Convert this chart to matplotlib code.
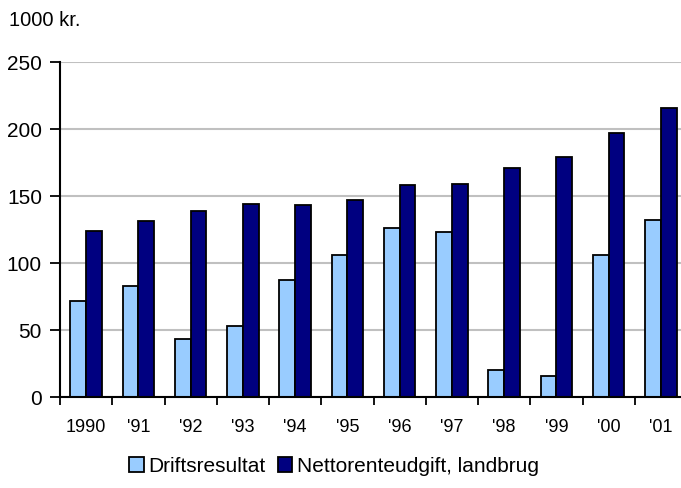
import matplotlib.pyplot as plt
import numpy as np

plt.rcParams['font.family'] = ['Liberation Sans', 'DejaVu Sans']

# Data (1000 kr.)
years = ['1990', "'91", "'92", "'93", "'94", "'95", "'96", "'97", "'98", "'99", "'00", "'01"]
driftsresultat = [72, 83, 43, 53, 87, 106, 126, 123, 20, 16, 106, 132]
nettorenteudgift = [124, 131, 139, 144, 143, 147, 158, 159, 171, 179, 197, 216]

fig = plt.figure(figsize=(6.81, 4.89), dpi=100)
ax = fig.add_axes([60 / 681, 1 - 398 / 489, 627 / 681, 335 / 489])

x = np.arange(len(years))
w = 0.3
ax.bar(x - w / 2, driftsresultat, w, color='#99CCFF', edgecolor='black', linewidth=1.3,
       label='Driftsresultat', zorder=3)
ax.bar(x + w / 2, nettorenteudgift, w, color='#000080', edgecolor='black', linewidth=1.3,
       label='Nettorenteudgift, landbrug', zorder=3)

ax.set_xlim(-0.5, len(years) - 0.5)
ax.set_ylim(0, 250)
ax.set_yticks(range(0, 251, 50))
ax.yaxis.grid(True, color='#C0C0C0', linewidth=1.5, zorder=0)

ax.set_xticks(x)
ax.set_xticklabels(years, fontsize=13)
ax.set_xticks(np.arange(-0.5, len(years), 1), minor=True)
ax.tick_params(axis='x', which='major', length=0, pad=15)
ax.tick_params(axis='x', which='minor', length=6, width=1.3, direction='out')
ax.tick_params(axis='y', length=7, width=1.3, labelsize=15, pad=6)

for s in ['top', 'right']:
    ax.spines[s].set_visible(False)
for s in ['left', 'bottom']:
    ax.spines[s].set_linewidth(1.5)
    ax.spines[s].set_zorder(4)

fig.text(9 / 681, 1 - 20 / 489, '1000 kr.', fontsize=14.5, va='center', ha='left')

fig.legend(loc='center', bbox_to_anchor=(334 / 681, 1 - 467 / 489), ncol=2, frameon=False,
           fontsize=15, handlelength=0.7, handleheight=0.7, handletextpad=0.2,
           columnspacing=0.6, borderpad=0)

fig.savefig('out.png', dpi=100)
